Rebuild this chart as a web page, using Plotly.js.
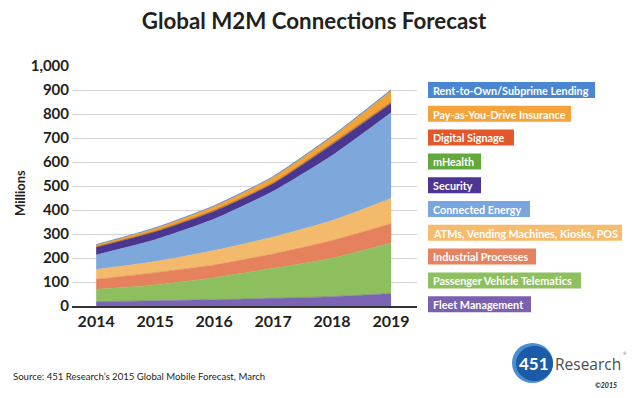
<!DOCTYPE html>
<html><head><meta charset="utf-8">
<script src="https://cdn.plot.ly/plotly-3.0.1.min.js"></script>
<style>html,body{margin:0;padding:0;background:#fff}</style>
</head><body><div id="chart" style="width:632px;height:398px"></div>
<script>
// ---- data ----
const years = [2014, 2015, 2016, 2017, 2018, 2019];
const fleetManagement = [18, 22, 26, 32, 39, 52];
const passengerVehicleTelematics = [52, 66, 92, 125, 160, 210];
const industrialProcesses = [41, 51, 53, 60, 74, 81];
const atmsVendingKiosksPos = [41, 46, 60, 70, 83, 105];
const connectedEnergy = [61, 91, 131, 191, 271, 357];
const security = [32, 33, 33, 32, 45, 39];
const mHealth = [1, 2, 2, 2, 3, 3];
const digitalSignage = [1, 1, 2, 2, 3, 2];
const payAsYouDrive = [7, 11, 16, 22, 27, 47];
const rentToOwn = [2, 3, 3, 4, 4, 5];

// stack order, bottom to top
const seriesNames = ["Fleet Management", "Passenger Vehicle Telematics", "Industrial Processes",
  "ATMs, Vending Machines, Kiosks, POS", "Connected Energy", "Security", "mHealth",
  "Digital Signage", "Pay-as-You-Drive Insurance", "Rent-to-Own/Subprime Lending"];
const seriesValues = [fleetManagement, passengerVehicleTelematics, industrialProcesses,
  atmsVendingKiosksPos, connectedEnergy, security, mHealth, digitalSignage, payAsYouDrive, rentToOwn];

// ---- styles ----
const fillColors = ["#7b64b4", "#8ebf5f", "#e6815d", "#f4ba6c", "#7ea8dc",
  "#4a3591", "#5fa83c", "#e04f26", "#f3a236", "#4d8bd4"];
const legendColors = ["#7b60b0", "#8ec060", "#e6825f", "#f6bb6d", "#7aa6df",
  "#4c3593", "#62a93e", "#e3572a", "#f4a33a", "#4a86d2"];
const legendBoxWidths = [103, 153, 108, 194, 102, 53, 53, 86, 143, 167];

const traces = seriesNames.map((n, i) => ({
  x: years, y: seriesValues[i], name: n, type: 'scatter', mode: 'lines',
  stackgroup: 'one', fillcolor: fillColors[i],
  line: {color: fillColors[i], width: 0.6, shape: 'spline', smoothing: 0.6},
  showlegend: false, hoverinfo: 'x+y+name'
}));

// layout helpers (pixel -> paper)
const L = 72, R = 417, T = 66, B = 306;
const px = v => (v - L) / (R - L);
const py = v => (B - v) / (B - T);
const FONT = 'Lato, "Open Sans", sans-serif';

const annotations = [];
const shapes = [];
// legend boxes, top to bottom = reverse of stack order
for (let k = 0; k < seriesNames.length; k++) {
  const i = seriesNames.length - 1 - k;
  const top = 82 + k * 23.8;
  shapes.push({type: 'rect', xref: 'paper', yref: 'paper', layer: 'above',
    x0: px(428), x1: px(428 + legendBoxWidths[i]), y0: py(top + 16), y1: py(top),
    fillcolor: legendColors[i], line: {width: 0}});
  annotations.push({
    xref: 'paper', yref: 'paper', x: px(432), y: py(top + 8.3), xanchor: 'left', yanchor: 'middle',
    text: '<b>' + seriesNames[i] + '</b>', showarrow: false, align: 'left', borderpad: 0,
    font: {family: FONT, size: 10.8, color: '#ffffff'}
  });
}
// y axis title
annotations.push({xref: 'paper', yref: 'paper', x: px(20), y: py(193), xanchor: 'center', yanchor: 'middle',
  text: '<b>Millions</b>', textangle: -90, showarrow: false,
  font: {family: FONT, size: 13, color: '#231f20'}});
// source
annotations.push({xref: 'paper', yref: 'paper', x: px(11), y: py(376), xanchor: 'left', yanchor: 'middle',
  text: 'Source: 451 Research\u2019s 2015 Global Mobile Forecast, March', showarrow: false,
  font: {family: FONT, size: 9.6, color: '#231f20'}});
// logo
shapes.push({type: 'circle', xref: 'paper', yref: 'paper', x0: px(512), x1: px(553), y0: py(383), y1: py(343),
  fillcolor: '#4a8fd2', line: {width: 0}});
shapes.push({type: 'circle', xref: 'paper', yref: 'paper', x0: px(516), x1: px(553), y0: py(381), y1: py(346),
  fillcolor: '#1c5ba7', line: {width: 0}});
annotations.push({xref: 'paper', yref: 'paper', x: px(534), y: py(363), xanchor: 'center', yanchor: 'middle',
  text: '<b>451</b>', showarrow: false, font: {family: FONT, size: 17, color: '#ffffff'}});
annotations.push({xref: 'paper', yref: 'paper', x: px(554), y: py(364), xanchor: 'left', yanchor: 'middle',
  text: 'Research', showarrow: false, borderpad: 0,
  font: {family: '"Open Sans", Lato, sans-serif', size: 15.5, color: '#4d4d4f'}});
annotations.push({xref: 'paper', yref: 'paper', x: px(622), y: py(353), xanchor: 'left', yanchor: 'middle',
  text: '®', showarrow: false, borderpad: 0, font: {family: FONT, size: 4, color: '#4d4d4f'}});
annotations.push({xref: 'paper', yref: 'paper', x: px(618), y: py(385), xanchor: 'right', yanchor: 'middle',
  text: '<b><i>©2015</i></b>', showarrow: false, borderpad: 0, font: {family: FONT, size: 7, color: '#231f20'}});

const layout = {
  width: 632, height: 398,
  margin: {l: L, r: 632 - R, t: T, b: 398 - B, pad: 0},
  paper_bgcolor: '#ffffff', plot_bgcolor: '#ffffff',
  title: {text: '<b>Global M2M Connections Forecast</b>', xref: 'container', yref: 'container',
    x: 0.497, y: 1 - 21 / 398, xanchor: 'center', yanchor: 'middle',
    font: {family: FONT, size: 22.3, color: '#231f20'}},
  xaxis: {range: [2013.59, 2019.44], tickvals: years, ticktext: years.map(y => '<b>' + y + '</b>'),
    showgrid: false, zeroline: false, showline: true, linecolor: '#333333', linewidth: 1.5,
    ticks: '', tickfont: {family: FONT, size: 16, color: '#231f20'}, fixedrange: true},
  yaxis: {range: [0, 1000], dtick: 100, tickformat: ',d', showgrid: true, gridcolor: '#d4d4d4', gridwidth: 1,
    zeroline: false, showline: false, ticks: '', ticklabelstandoff: 2,
    tickfont: {family: FONT, size: 15, color: '#231f20', weight: 'bold'}, fixedrange: true},
  annotations: annotations, shapes: shapes, showlegend: false
};

Plotly.newPlot('chart', traces, layout, {displayModeBar: false, staticPlot: true});
</script></body></html>
